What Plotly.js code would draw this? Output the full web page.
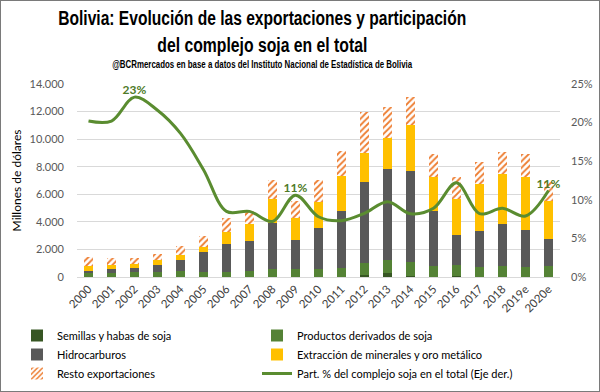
<!DOCTYPE html>
<html><head><meta charset="utf-8">
<script src="https://cdn.plot.ly/plotly-3.0.1.min.js"></script>
<style>
html,body{margin:0;padding:0;background:#fff}
#wrap{position:relative;width:600px;height:392px}
#chart{width:600px;height:392px}
#frame{position:absolute;left:0;top:0;width:600px;height:392px;box-sizing:border-box;border:1px solid #7a7a7a;pointer-events:none}
</style>
</head><body>
<div id="wrap"><div id="chart"></div><div id="frame"></div></div>
<script>
const years = ['2000','2001','2002','2003','2004','2005','2006','2007','2008','2009','2010','2011','2012','2013','2014','2015','2016','2017','2018','2019e','2020e'];
const semillas = [20,15,15,20,20,15,10,15,20,20,20,30,145,310,100,30,50,20,20,20,20];
const productos = [250,295,325,370,410,365,380,415,540,580,560,640,845,920,990,790,820,730,800,730,750];
const hidrocarburos = [190,250,290,480,800,1410,1980,2200,3380,2060,2950,4090,5880,6580,6600,3940,2150,2610,3000,2680,2010];
const extraccion = [360,310,340,360,340,410,920,1210,1710,1640,1930,2560,2140,2290,3360,2470,2630,3410,3630,3820,2730];
const resto = [650,480,410,440,700,750,970,960,1380,1210,1570,1840,2960,2250,1980,1690,1580,1570,1610,1650,1400];
const participacion = [20.2,20.2,23.3,21.6,18.6,13.9,8.5,8.5,7.2,10.6,7.8,7.3,8.25,9.75,8.2,8.9,12.2,8.2,8.9,7.9,11.2];
const labeledYears = ['2002','2009','2020e'];

const names = ['Semillas y habas de soja','Productos derivados de soja','Hidrocarburos','Extracción de minerales y oro metálico','Resto exportaciones','Part. % del complejo soja en el total (Eje der.)'];
const titleLines = ['Bolivia: Evolución de las exportaciones y participación','del complejo soja en el total'];
const subtitle = '@BCRmercados en base a datos del Instituto Nacional de Estadística de Bolivia';

const W = 600, H = 392, L = 77, R = 40, T = 84, B = 115;
const PW = W - L - R, PH = H - T - B;
const px = x => (x - L) / PW;
const py = y => (H - B - y) / PH;

const font = 'Lato, "Liberation Sans", sans-serif';
const narrow = '"Liberation Sans", sans-serif';

const traces = [
  {type:'bar', name:names[0], x:years, y:semillas, marker:{color:'#375623'}, legend:'legend', legendgroup:'a'},
  {type:'bar', name:names[1], x:years, y:productos, marker:{color:'#548235'}, legend:'legend2', legendgroup:'b'},
  {type:'bar', name:names[2], x:years, y:hidrocarburos, marker:{color:'#595959'}, legend:'legend', legendgroup:'c'},
  {type:'bar', name:names[3], x:years, y:extraccion, marker:{color:'#FFC000'}, legend:'legend2', legendgroup:'d'},
  {type:'bar', name:names[4], x:years, y:resto, marker:{color:'#ffffff', pattern:{shape:'/', fgcolor:'#ED7D31', bgcolor:'#ffffff', size:4.5, solidity:0.4}}, legend:'legend', legendgroup:'e'},
  {type:'scatter', mode:'lines+text', name:names[5], x:years, y:participacion, yaxis:'y2', legend:'legend2', legendgroup:'f',
   line:{color:'#5A8C30', width:3, shape:'spline', smoothing:1},
   text: years.map((y,i) => labeledYears.includes(y) ? Math.round(participacion[i]) + '%' : ''),
   textposition:'top center', textfont:{family:font, size:12, color:'#4E7A28', weight:'bold'}, cliponaxis:false}
];

const legendBase = {orientation:'v', yanchor:'top', xanchor:'left', traceorder:'normal', tracegroupgap:5.5,
  font:{family:font, size:11, color:'#000'}, bgcolor:'rgba(0,0,0,0)'};

// [font size drawn, target width, vertical stretch]
const titleFit = [[14, 408, 1.5], [15.5, 210, 1.35], [8, 300, 1.35]];

const layout = {
  width:W, height:H,
  margin:{l:L, r:R, t:T, b:B, autoexpand:false},
  paper_bgcolor:'#fff', plot_bgcolor:'#fff',
  separators:',.',
  barmode:'stack', bargap:0.6,
  showlegend:true,
  font:{family:font, size:11, color:'#404040'},
  xaxis:{type:'category', range:[-0.5, 20.5], tickangle:-45, tickfont:{family:font, size:11.5, color:'#404040'},
         showgrid:false, showline:true, linecolor:'#d9d9d9', ticks:''},
  yaxis:{range:[0,14000], dtick:2000, tickformat:',d', gridcolor:'#d9d9d9', zeroline:false,
         tickfont:{family:font, size:11, color:'#595959'}, ticklabelstandoff:12,
         title:{text:'Millones de dólares', font:{family:font, size:12, color:'#000'}, standoff:5}},
  yaxis2:{overlaying:'y', side:'right', range:[0,25], dtick:5, ticksuffix:'%', showgrid:false, zeroline:false,
          tickfont:{family:font, size:11, color:'#595959'}, ticklabelstandoff:10},
  legend:Object.assign({}, legendBase, {x:px(17), y:py(321)}),
  legend2:Object.assign({}, legendBase, {x:px(257), y:py(321)}),
  annotations:[
    {xref:'paper', yref:'paper', x:px(262), y:py(18), xanchor:'center', yanchor:'middle', showarrow:false,
     text:'<b>' + titleLines[0] + '</b>', font:{family:narrow, size:titleFit[0][0], color:'#000'}},
    {xref:'paper', yref:'paper', x:px(262), y:py(45), xanchor:'center', yanchor:'middle', showarrow:false,
     text:'<b>' + titleLines[1] + '</b>', font:{family:narrow, size:titleFit[1][0], color:'#000'}},
    {xref:'paper', yref:'paper', x:px(262), y:py(64), xanchor:'center', yanchor:'middle', showarrow:false,
     text:'<b>' + subtitle + '</b>', font:{family:narrow, size:titleFit[2][0], color:'#000'}}
  ]
};

Plotly.newPlot('chart', traces, layout, {displayModeBar:false, staticPlot:true}).then(gd => {
  gd.querySelectorAll('.annotation').forEach(a => {
    const idx = +a.getAttribute('data-index');
    const t = a.querySelector('text.annotation-text');
    const fit = titleFit[idx];
    if (!t || !fit) return;
    t.setAttribute('textLength', fit[1]);
    t.setAttribute('lengthAdjust', 'spacingAndGlyphs');
    const bb = t.getBBox();
    const cy = bb.y + bb.height / 2;
    const prev = t.getAttribute('transform') || '';
    t.setAttribute('transform', prev + ' translate(0,' + cy + ') scale(1,' + fit[2] + ') translate(0,' + (-cy) + ')');
  });
});
</script>
</body></html>
